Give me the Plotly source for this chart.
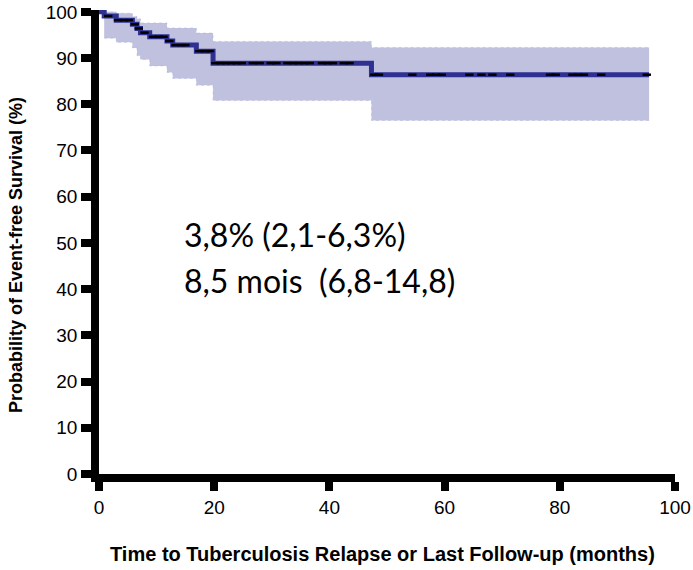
import numpy as np
import plotly.graph_objects as go

# Kaplan-Meier steps (months, %)
step_times = [0, 0.9, 3.0, 5.8, 6.6, 7.2, 8.8, 11.8, 12.8, 16.9, 19.8, 47.3]
survival = [100, 99.1, 98.2, 97.3, 96.4, 95.5, 94.6, 93.7, 92.8, 91.5, 88.9, 86.4]
ci_lower = [100, 94.3, 93.4, 92.2, 90.5, 89.7, 88.3, 86.9, 85.6, 84.1, 80.8, 76.5]
ci_upper = [100, 100, 99.7, 99.0, 98.5, 97.6, 97.6, 96.5, 96.5, 95.4, 93.6, 92.3]
end_time = 95.5

censor_times = [1.6, 3.3, 4.3, 5.2, 6.2, 6.9, 7.9, 9.4, 10.4, 11.2, 12.2, 13.3, 14.3, 15.0,
                17.4, 18.4, 19.2, 20.2, 21.1, 22.0, 22.9, 23.9, 24.8, 26.7, 27.9, 29.8, 30.8,
                32.7, 33.7, 34.7, 35.7, 36.6, 38.7, 39.7, 40.6, 42.5, 43.5, 47.8, 48.6, 54.4,
                57.5, 58.5, 59.5, 64.3, 66.4, 68.3, 71.4, 78.3, 79.3, 82.2, 83.2, 84.2, 87.2, 95.1]

x_ticks = [0, 20, 40, 60, 80, 100]
y_ticks = [0, 10, 20, 30, 40, 50, 60, 70, 80, 90, 100]

annot_lines = ["3,8% (2,1-6,3%)", "8,5 mois  (6,8-14,8)"]

xs = step_times + [end_time]
surv_s = survival + [survival[-1]]
low_s = ci_lower + [ci_lower[-1]]
up_s = ci_upper + [ci_upper[-1]]

fig = go.Figure()
fig.add_trace(go.Scatter(x=xs[1:], y=low_s[1:], mode="lines",
                         line=dict(shape="hv", width=0.8, color="rgba(170,175,215,0.6)", dash="dot"),
                         hoverinfo="skip", showlegend=False))
fig.add_trace(go.Scatter(x=xs[1:], y=up_s[1:], mode="lines", line=dict(shape="hv", width=0.8,
                         color="rgba(170,175,215,0.6)", dash="dot"),
                         fill="tonexty", fillcolor="rgba(46,49,146,0.30)",
                         hoverinfo="skip", showlegend=False))
fig.add_trace(go.Scatter(x=xs, y=surv_s, mode="lines", line=dict(shape="hv", width=5, color="#2E3192"),
                         showlegend=False))

idx = np.searchsorted(np.array(step_times), np.array(censor_times), side="right") - 1
censor_y = [survival[i] for i in idx]
fig.add_trace(go.Scatter(x=censor_times, y=censor_y, mode="markers",
                         marker=dict(symbol="line-ew", size=6, line=dict(width=2.5, color="black")),
                         showlegend=False))

axis_font = dict(family="Liberation Sans, Arial", size=19, color="black")
fig.update_xaxes(range=[0, 100], tickvals=x_ticks, ticks="outside", ticklen=9, tickwidth=7.5,
                 tickcolor="black", showline=True, linewidth=7.5, linecolor="black",
                 showgrid=False, zeroline=False, tickfont=axis_font, automargin=False)
fig.update_yaxes(range=[0, 100.4], tickvals=y_ticks, ticks="outside", ticklen=10, tickwidth=7.5,
                 tickcolor="black", showline=True, linewidth=7.5, linecolor="black",
                 showgrid=False, zeroline=False, tickfont=axis_font, automargin=False)

fig.add_annotation(text="Time to Tuberculosis Relapse or Last Follow-up (months)",
                   xref="paper", yref="paper", x=0.493, y=-0.172, xanchor="center", yanchor="middle",
                   showarrow=False,
                   font=dict(family="Liberation Sans, Arial", size=20, color="black", weight="bold"))
fig.add_annotation(text="Probability of Event-free Survival (%)",
                   xref="paper", yref="paper", x=-0.144, y=0.472, xanchor="center", yanchor="middle",
                   showarrow=False, textangle=-90,
                   font=dict(family="Liberation Sans Narrow, Arial Narrow, Liberation Sans",
                             size=18, color="black", weight="bold"))
fig.add_annotation(text=annot_lines[0], x=14.36, y=51.9, xanchor="left", showarrow=False,
                   font=dict(family="Lato, Open Sans", size=32, color="black"))
fig.add_annotation(text=annot_lines[1], x=14.36, y=41.8, xanchor="left", showarrow=False,
                   font=dict(family="Lato, Open Sans", size=32, color="black"))

fig.update_layout(width=693, height=570, margin=dict(l=99, r=18, t=10, b=96, autoexpand=False),
                  plot_bgcolor="white", paper_bgcolor="white")
fig.write_html("out.html")
